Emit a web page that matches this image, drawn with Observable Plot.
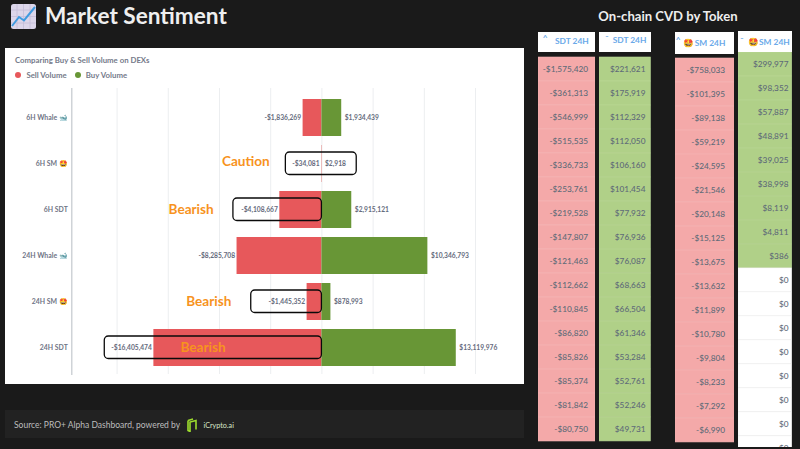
<!DOCTYPE html>
<html><head><meta charset="utf-8">
<script src="https://cdn.jsdelivr.net/npm/d3@7"></script>
<script src="https://cdn.jsdelivr.net/npm/@observablehq/plot@0.6"></script>
<style>
html,body{margin:0;padding:0;background:#1a1a1a;width:800px;height:449px;overflow:hidden;font-family:Lato,sans-serif}
.a{position:absolute;white-space:nowrap}
.a svg,svg{display:block}
.hd{position:absolute;background:#fff;color:#6aa9e9;font:700 8.4px Lato,sans-serif}
.hd span{position:absolute;white-space:nowrap}
</style></head><body>
<script>
const categories = ["6H Whale 🐋","6H SM 🤩","6H SDT","24H Whale 🐋","24H SM 🤩","24H SDT"];
const sellVolume = [-1836269,-34081,-4108667,-8285708,-1445352,-16405474];
const buyVolume = [1934439,2918,2915121,10346793,878993,13119976];
const gridTicks = [-20e6,-15e6,-10e6,-5e6,0,5e6,10e6,15e6];
const boxCats = ["6H SM 🤩","6H SDT","24H SM 🤩","24H SDT"];
const boxFrom = [-3.52e6,-8.64e6,-6.9e6,-21.2e6];
const boxTo = [3.4e6,0,0,0];
const noteCats = ["6H SM 🤩","6H SDT","24H SM 🤩","24H SDT"];
const noteText = ["Caution","Bearish","Bearish","Bearish"];
const noteX = [-7.43e6,-12.77e6,-11.05e6,-11.6e6];

const sdtSell = [-1575420,-361313,-546999,-515535,-336733,-253761,-219528,-147807,-121463,-112662,-110845,-86820,-85826,-85374,-81842,-80750];
const sdtBuy = [221621,175919,112329,112050,106160,101454,77932,76936,76087,68663,66504,61346,53284,52761,52246,49731];
const smSell = [-758033,-101395,-89138,-59219,-24595,-21546,-20148,-15125,-13675,-13632,-11899,-10780,-9804,-8233,-7292,-6990];
const smBuy = [299977,98352,57887,48891,39025,38998,8119,4811,386,0,0,0,0,0,0,0,0];

const money = v => (v<0?"-$":"$")+Math.abs(v).toLocaleString("en-US");
const add = (html,css,cls="a") => {const d=document.createElement("div");d.className=cls;d.style.cssText=css;d.innerHTML=html;document.body.appendChild(d);return d;};
const place = (node,x,y) => {const d=add("",`left:${x}px;top:${y}px`);d.appendChild(node);};

// page chrome
add(`<svg width="25" height="25" viewBox="0 0 25 25"><rect width="25" height="25" rx="2.5" fill="#dcd6ea"/><path d="M6 0V25M12.5 0V25M19 0V25M0 6H25M0 12.5H25M0 19H25" stroke="#c4bcd8" stroke-width=".8"/><path d="M1 22L8 13L13 16.5L24 3" fill="none" stroke="#3f9be0" stroke-width="2"/></svg>`,"left:10.5px;top:3.5px");
add("Market Sentiment","left:45px;top:-1px;font:700 22.6px/34px Lato,sans-serif;color:#efefef");
add("On-chain CVD by Token","left:598px;top:6px;width:140px;text-align:center;font:700 13.1px/20px Lato,sans-serif;color:#eee");

// main chart
const rows = categories.map((c,i)=>({c,sell:sellVolume[i],buy:buyVolume[i]}));
const boxes = boxCats.map((c,i)=>({c,a:boxFrom[i],b:boxTo[i]}));
const notes = noteCats.map((c,i)=>({c,t:noteText[i],x:noteX[i]}));
const labelColor="#666b7d";
const chart = Plot.plot({
  width:519,height:336,marginLeft:66.3,marginRight:8,marginTop:40,marginBottom:10,
  style:{background:"#fff",fontFamily:"Lato, sans-serif"},
  x:{domain:[-24.42e6,19e6],axis:null},
  y:{domain:categories,range:[46,322],paddingInner:0.2,paddingOuter:0.1,label:null},
  marks:[
    Plot.ruleX(gridTicks,{stroke:"#eceef0",strokeWidth:1}),
    Plot.axisY({tickSize:0,tickPadding:4,fontSize:6.9,fontWeight:700,color:"#6f7485",label:null}),
    Plot.frame({anchor:"left",stroke:"#c4c8ce",strokeWidth:1.2}),
    Plot.barX(rows,{y:"c",x1:0,x2:"sell",fill:"#e7585b"}),
    Plot.barX(rows,{y:"c",x1:0,x2:"buy",fill:"#689636"}),
    Plot.text(rows,{y:"c",x:"sell",text:d=>money(d.sell),textAnchor:"end",dx:-2,fontSize:6.7,fontWeight:700,fill:labelColor}),
    Plot.text(rows,{y:"c",x:"buy",text:d=>money(d.buy),textAnchor:"start",dx:3,fontSize:6.7,fontWeight:700,fill:labelColor}),
    Plot.barX(boxes,{y:"c",x1:"a",x2:"b",fill:"none",stroke:"#0a0a0a",strokeWidth:1.3,rx:4,insetTop:7,insetBottom:7.5}),
    Plot.text(notes,{filter:d=>d.t=="Caution",y:"c",x:"x",text:"t",dy:-2,fontSize:13.6,fontWeight:700,fill:"#f7931e"}),
    Plot.text(notes,{filter:d=>d.t!="Caution",y:"c",x:"x",text:"t",fontSize:13.6,fontWeight:700,fill:"#f7931e"})
  ]
});
place(chart,5.4,48);
add("Comparing Buy &amp; Sell Volume on DEXs","left:15px;top:54px;font:700 7.8px/12px Lato,sans-serif;color:#757a8a");
add("","left:15px;top:72px;width:6px;height:6px;border-radius:50%;background:#e7585b");
add("Sell Volume","left:26.4px;top:69px;font:700 7.8px/12px Lato,sans-serif;color:#757a8a");
add("","left:74.8px;top:72px;width:6px;height:6px;border-radius:50%;background:#689636");
add("Buy Volume","left:85.8px;top:69px;font:700 7.8px/12px Lato,sans-serif;color:#757a8a");

// footer
add("","left:5px;top:410px;width:519px;height:28px;background:#222");
add("Source: PRO+ Alpha Dashboard, powered by","left:14px;top:419px;font:400 8.5px/12px Lato,sans-serif;color:#bdbdbd");
add(`<svg width="11" height="14" viewBox="0 0 11 14"><path d="M1 2.5V12.5L3 13.5V4L9 2.5V11.5" fill="none" stroke="#9ddc2d" stroke-width="1.6"/><path d="M1 2.5L6 1" fill="none" stroke="#9ddc2d" stroke-width="1.4"/></svg>`,"left:186.5px;top:418px");
add("iCrypto.ai","left:203.5px;top:419.5px;font:400 7.2px/12px Lato,sans-serif;color:#d8e8c8");

// CVD columns
function column(values,x,top,w,h,rowH,pad,fillFn,lineFn){
  const idx = values.map((v,i)=>({v,i}));
  const p = Plot.plot({
    width:w,height:h,margin:0,
    style:{background:"transparent",fontFamily:"Lato, sans-serif"},
    x:{axis:null},
    y:{type:"band",domain:idx.map(d=>d.i),range:[0,rowH*values.length],padding:0,axis:null},
    marks:[
      Plot.cell(idx,{y:"i",fill:d=>fillFn(d.v),stroke:d=>lineFn(d.v),strokeWidth:.6}),
      Plot.text(idx,{y:"i",text:d=>money(d.v),frameAnchor:"right",dx:-pad,fontSize:8.3,fontWeight:500,fill:"#5f6b78"})
    ]
  });
  place(p,x,top);
}
const redF=()=>"#f4a9a9", redL=()=>"#f6b6b6";
const grnF=v=>v>0?"#b0d088":"#ffffff", grnL=v=>v>0?"#bad796":"#f4f4f4";
column(sdtSell,537.7,52.3,57,394.4,24.65,7.4,redF,redL);
column(sdtBuy,599.3,52.3,51.4,394.4,24.65,5.4,()=>"#b0d088",()=>"#bad796");
column(smSell,674.7,54,59.6,392.7,24.55,10,redF,redL);
column(smBuy,738.3,52.3,53.7,394.4,24,3.7,grnF,grnL);

// column headers
const headers=[
 {x:537.7,y:32.3,w:57,h:20,caret:"^",cx:5,label:"SDT 24H",lx:17.3,icon:"",ly:1.5},
 {x:599.3,y:32.3,w:51.4,h:20,caret:"ˇ",cx:6,label:"SDT 24H",lx:13.4,icon:"",ly:1},
 {x:674.7,y:32.3,w:59.6,h:21.7,caret:"^",cx:1,label:"SM 24H",lx:20,icon:"🤩",ix:8.5,ly:3.5},
 {x:738.3,y:30.7,w:53.7,h:21.6,caret:"ˇ",cx:2,label:"SM 24H",lx:20.7,icon:"🤩",ix:9.5,ly:4.5}
];
headers.forEach(h=>{
  add(`<span style="left:${h.cx}px;top:${h.caret=="^"?h.ly-2:h.ly-1}px;line-height:12px">${h.caret}</span>`+
      (h.icon?`<span style="left:${h.ix}px;top:${h.ly+1}px;line-height:12px;font-size:8.5px">${h.icon}</span>`:"")+
      `<span style="left:${h.lx}px;top:${h.ly+1}px;line-height:12px">${h.label}</span>`,
      `left:${h.x}px;top:${h.y}px;width:${h.w}px;height:${h.h}px`,"hd");
});
</script>
</body></html>
